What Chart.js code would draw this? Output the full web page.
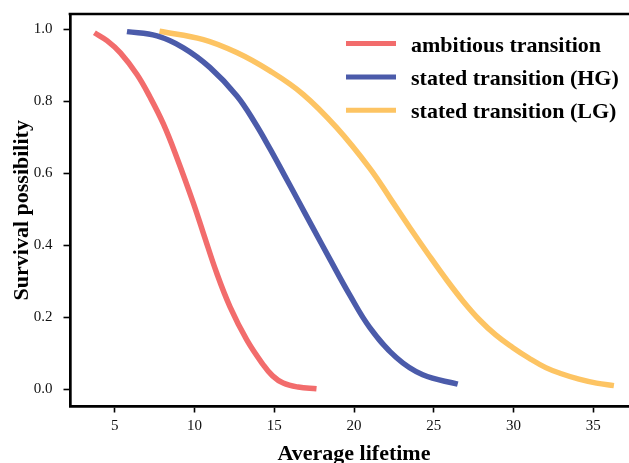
<!DOCTYPE html>
<html>
<head>
<meta charset="utf-8">
<title>Survival possibility</title>
<script src="https://cdn.jsdelivr.net/npm/chart.js@4.4.1/dist/chart.umd.min.js"></script>
<style>
    html, body { margin: 0; padding: 0; background: #fff; overflow: hidden; }
    #wrap { position: relative; width: 645px; height: 470px; }
</style>
</head>
<body>
<div id="wrap"><canvas id="lifeChart"></canvas></div>
<script>
const FONT = '"Liberation Serif", "Times New Roman", serif';

// -----------------------------
// DATA
// -----------------------------
const xTicks = [5, 10, 15, 20, 25, 30, 35];
const yTicks = [0.0, 0.2, 0.4, 0.6, 0.8, 1.0];

const seriesNames = ["ambitious transition", "stated transition (HG)", "stated transition (LG)"];
const seriesColors = ["#F26C6C", "#4B5BAA", "#FDC463"];

const lifeAmbitious = [3.73, 4.52, 5.36, 6.40, 7.23, 8.06, 8.90, 9.90, 10.56, 11.40, 12.23, 13.28, 14.31, 14.90, 15.56, 16.50, 17.65];
const survAmbitious = [0.990, 0.968, 0.934, 0.874, 0.810, 0.736, 0.643, 0.521, 0.433, 0.322, 0.229, 0.137, 0.068, 0.037, 0.017, 0.006, 0.001];

const lifeStatedHG = [5.77, 7.65, 9.31, 10.98, 12.65, 13.79, 14.73, 15.62, 16.50, 17.45, 18.48, 19.73, 20.98, 22.65, 24.31, 26.50];
const survStatedHG = [0.993, 0.981, 0.948, 0.893, 0.815, 0.740, 0.668, 0.596, 0.524, 0.446, 0.362, 0.262, 0.172, 0.088, 0.040, 0.014];

const lifeStatedLG = [7.81, 10.56, 12.65, 14.73, 16.81, 18.90, 20.98, 22.30, 23.48, 24.73, 25.80, 26.81, 27.86, 28.90, 29.94, 30.98, 32.02, 33.00, 34.10, 35.20, 36.29];
const survStatedLG = [0.994, 0.971, 0.935, 0.884, 0.819, 0.727, 0.614, 0.528, 0.450, 0.370, 0.304, 0.246, 0.193, 0.150, 0.116, 0.086, 0.060, 0.043, 0.028, 0.017, 0.010];


function toPoints(xs, ys) {
    return xs.map((x, i) => ({ x: x, y: ys[i] }));
}

function makeLine(i, xs, ys) {
    return {
        label: seriesNames[i],
        data: toPoints(xs, ys),
        borderColor: seriesColors[i],
        backgroundColor: seriesColors[i],
        borderWidth: 5.5,
        borderCapStyle: "butt",
        pointRadius: 0,
        fill: false,
        tension: 0.4
    };
}


// -----------------------------
// LEGEND (top right, inside the axes)
// -----------------------------
const lineLegend = {
    id: "lineLegend",
    afterDraw(chart) {
        const ctx = chart.ctx;
        const area = chart.chartArea;
        ctx.save();
        ctx.font = "bold 22px " + FONT;
        ctx.textAlign = "left";
        ctx.textBaseline = "alphabetic";
        chart.data.datasets.forEach((ds, i) => {
            const y = area.top + 29.5 + i * 33.4;
            ctx.strokeStyle = ds.borderColor;
            ctx.lineWidth = 5;
            ctx.beginPath();
            ctx.moveTo(area.left + 276, y);
            ctx.lineTo(area.left + 326, y);
            ctx.stroke();
            ctx.fillStyle = "#000";
            ctx.fillText(ds.label, area.left + 341, y + 8);
        });
        ctx.restore();
    }
};

// top spine (left/bottom come from the scale borders)
const topSpine = {
    id: "topSpine",
    afterDraw(chart) {
        const ctx = chart.ctx;
        const a = chart.chartArea;
        ctx.save();
        ctx.strokeStyle = "#000";
        ctx.lineWidth = 2.7;
        ctx.lineCap = "square";
        ctx.beginPath();
        ctx.moveTo(a.left, a.top);
        ctx.lineTo(a.right + 10, a.top);
        ctx.stroke();
        ctx.restore();
    }
};


// -----------------------------
// CHART
// -----------------------------
new Chart(document.getElementById("lifeChart"), {
    type: "line",
    data: {
        datasets: [
            makeLine(0, lifeAmbitious, survAmbitious),
            makeLine(1, lifeStatedHG, survStatedHG),
            makeLine(2, lifeStatedLG, survStatedLG)
        ]
    },
    options: {
        responsive: true,
        maintainAspectRatio: false,
        animation: false,
        devicePixelRatio: 1,
        layout: {
            autoPadding: false,
            padding: { top: 14, right: 7, bottom: 0, left: 0 }
        },
        plugins: {
            legend: { display: false },
            tooltip: { enabled: false }
        },
        scales: {
            x: {
                type: "linear",
                min: 2.2,
                max: 37.8,
                afterFit(scale) {
                    scale.height = 63.5;
                    scale.paddingLeft = 0;
                    scale.paddingRight = 0;
                },
                afterBuildTicks(scale) { scale.ticks = xTicks.map(v => ({ value: v })); },
                border: { display: true, color: "#000", width: 2.7 },
                grid: { drawOnChartArea: false, drawTicks: true, tickLength: 6, tickWidth: 1.6, tickColor: "#000" },
                ticks: {
                    color: "#111",
                    font: { family: FONT, size: 15 },
                    padding: 5,
                    maxRotation: 0,
                    autoSkip: false,
                    callback: v => String(v)
                },
                title: {
                    display: true,
                    text: "Average lifetime",
                    color: "#000",
                    font: { family: FONT, size: 22, weight: "bold" },
                    padding: { top: 0, bottom: 2.5 }
                }
            },
            y: {
                min: -0.048,
                max: 1.042,
                afterFit(scale) {
                    scale.width = 70;
                    scale.paddingTop = 0;
                    scale.paddingBottom = 0;
                },
                afterBuildTicks(scale) { scale.ticks = yTicks.map(v => ({ value: v })); },
                border: { display: true, color: "#000", width: 2.7 },
                grid: { drawOnChartArea: false, drawTicks: true, tickLength: 6.5, tickWidth: 1.6, tickColor: "#000" },
                ticks: {
                    color: "#111",
                    font: { family: FONT, size: 15 },
                    padding: 11,
                    autoSkip: false,
                    callback: v => v.toFixed(1)
                },
                title: {
                    display: true,
                    text: "Survival possibility",
                    color: "#000",
                    font: { family: FONT, size: 22, weight: "bold" },
                    padding: { top: 9, bottom: 0 }
                }
            }
        }
    },
    plugins: [lineLegend, topSpine]
});
</script>
</body>
</html>
